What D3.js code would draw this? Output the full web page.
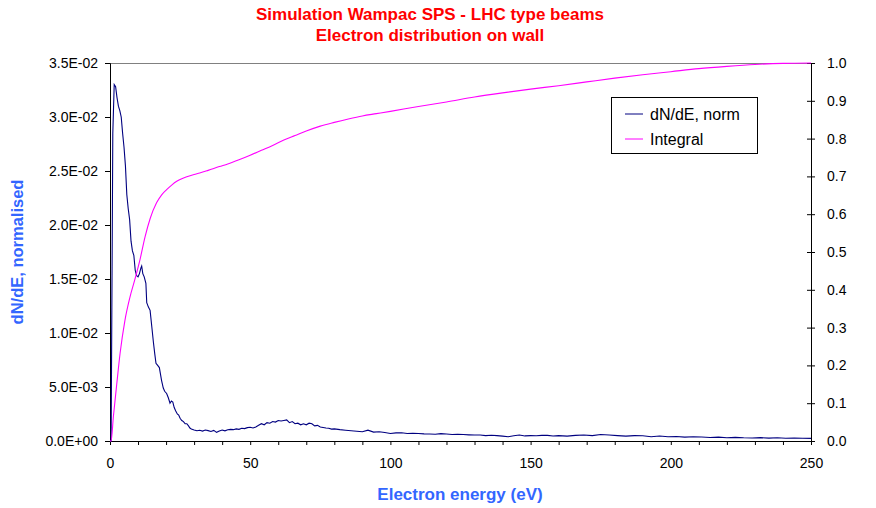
<!DOCTYPE html>
<html><head><meta charset="utf-8">
<script src="https://cdn.jsdelivr.net/npm/d3@7"></script>
<style>body{margin:0;background:#fff}svg{display:block;font-family:"Liberation Sans",Arial,sans-serif}</style>
</head><body>
<svg id="c" width="876" height="508"></svg>
<script>
// ---- data ----
const dnEnergy = [0,0.4,1.0,1.5,2.0,2.5,3.0,3.5,4.0,4.5,5,5.5,6,6.5,7,7.5,8,8.5,9,9.5,10,10.5,11,11.3,11.7,12.2,12.8,13.1,13.7,14.3,14.9,15.5,16,16.4,17,17.6,18,18.4,19,19.5,20.2,20.8,21.4,21.9,22.4,22.9,23.4,24,24.5,25,25.6,26.2,26.8,27.4,28,28.5,29,30,31,32,33,34,35,36,37,38,39,40,41,42,43,44,45,46,47,48,49,50,51,52,53,54,55,56,57,58,59,60,61,62,63,64,65,66,67,68,69,70,71,72,73,74,75,76,77,78,79,80,82,84,86,88,90,92,94,96,98,100,102,104,106,108,110,112,114,116,118,120,122,124,126,128,130,132,134,136,138,140,142,144,146,148,150,152,154,156,158,160,163,166,169,172,175,178,181,184,187,190,193,196,199,202,205,208,211,214,217,220,223,226,229,232,235,238,241,244,247,250];
const dnValues = [0,0,0.0285,0.0330,0.0328,0.0318,0.0310,0.0306,0.0300,0.0285,0.0272,0.0255,0.0228,0.0215,0.0205,0.0185,0.0176,0.0172,0.0158,0.0153,0.0152,0.0155,0.0160,0.0162,0.0155,0.0152,0.0146,0.0128,0.0124,0.0121,0.0106,0.0091,0.0080,0.0072,0.0070,0.0068,0.0062,0.0056,0.0049,0.0046,0.0044,0.0040,0.0035,0.0037,0.0036,0.0031,0.0028,0.0025,0.0024,0.0021,0.0019,0.0018,0.0016,0.0016,0.0014,0.0012,0.0011,0.00102,0.00095,0.00100,0.00092,0.00102,0.00096,0.00088,0.00098,0.00080,0.00092,0.00102,0.00094,0.00104,0.00108,0.00105,0.00112,0.00108,0.00118,0.00115,0.00124,0.00127,0.00120,0.00130,0.00145,0.00160,0.00150,0.00170,0.00165,0.00180,0.00175,0.00190,0.00185,0.00190,0.00195,0.00170,0.00180,0.00160,0.00165,0.00150,0.00160,0.00150,0.00165,0.00160,0.00140,0.00145,0.00130,0.00125,0.00120,0.00118,0.00110,0.00112,0.00105,0.00100,0.00095,0.00090,0.00086,0.00100,0.00082,0.00086,0.00078,0.00070,0.00075,0.00077,0.00070,0.00072,0.00070,0.00066,0.00065,0.00062,0.00068,0.00065,0.00060,0.00063,0.00060,0.00057,0.00055,0.00055,0.00050,0.00053,0.00050,0.00045,0.00040,0.00048,0.00055,0.00047,0.00050,0.00048,0.00052,0.00052,0.00046,0.00050,0.00045,0.00052,0.00056,0.00050,0.00060,0.00055,0.00050,0.00045,0.00050,0.00048,0.00040,0.00046,0.00040,0.00042,0.00036,0.00040,0.00037,0.00033,0.00036,0.00030,0.00034,0.00030,0.00028,0.00031,0.00027,0.00030,0.00025,0.00028,0.00025,0.00024];
const intEnergy = [0,0.4,1.2,2.4,3.6,5.3,7.1,8.9,10.7,12.5,14.3,16.6,18.5,20.2,22,23.8,25.6,27.4,30,32,35,39,42,46,50,54,58,62,66,70,75,80,85,90,95,100,110,120,130,140,150,160,170,180,190,200,210,220,230,240,250];
const intValues = [0,0,0.064,0.150,0.232,0.318,0.380,0.428,0.480,0.540,0.588,0.630,0.652,0.665,0.677,0.687,0.694,0.699,0.705,0.709,0.716,0.726,0.733,0.744,0.756,0.769,0.782,0.796,0.808,0.820,0.833,0.843,0.852,0.860,0.866,0.872,0.885,0.897,0.910,0.921,0.931,0.940,0.950,0.960,0.969,0.977,0.985,0.991,0.996,0.999,1.0];
const xTicks = [0,50,100,150,200,250];
const leftTicks = [0,0.005,0.01,0.015,0.02,0.025,0.03,0.035];
const leftTickLabels = ["0.0E+00","5.0E-03","1.0E-02","1.5E-02","2.0E-02","2.5E-02","3.0E-02","3.5E-02"];
const rightTicks = [0,0.1,0.2,0.3,0.4,0.5,0.6,0.7,0.8,0.9,1.0];
const rightTickLabels = ["0.0","0.1","0.2","0.3","0.4","0.5","0.6","0.7","0.8","0.9","1.0"];
const seriesNames = ["dN/dE, norm","Integral"];
const titleLines = ["Simulation Wampac SPS - LHC type beams","Electron distribution on wall"];

// ---- drawing ----
const svg = d3.select("#c");
const L=110, R=811, T=63, B=441;
const x = d3.scaleLinear().domain([0,250]).range([L,R]);
const yL = d3.scaleLinear().domain([0,0.035]).range([B,T]);
const yR = d3.scaleLinear().domain([0,1]).range([B,T]);
const navy="#000080", mag="#ff00ff", blue="#3366ff";

// frame
svg.append("rect").attr("x",L).attr("y",T).attr("width",R-L).attr("height",B-T)
  .attr("fill","none").attr("stroke","#808080").attr("stroke-width",1).attr("shape-rendering","crispEdges");

// x axis
const gx = svg.append("g").attr("transform",`translate(0,${B})`)
  .call(d3.axisBottom(x).tickValues(d3.range(0,251,10)).tickSize(4).tickFormat(d=>xTicks.includes(d)?d:""));
gx.select(".domain").attr("stroke","#000");
gx.selectAll("text").attr("font-size",14).attr("fill","#000").attr("dy","1.45em").attr("font-family","Liberation Sans, Arial, sans-serif");
gx.selectAll("line").attr("stroke","#000");

// left axis
const gl = svg.append("g").attr("transform",`translate(${L},0)`)
  .call(d3.axisLeft(yL).tickValues(leftTicks).tickSize(5).tickFormat((d,i)=>leftTickLabels[i]));
gl.selectAll("text").attr("font-size",14).attr("fill","#000").attr("x",-12).attr("font-family","Liberation Sans, Arial, sans-serif");
gl.select(".domain").attr("stroke","#000");

// right axis
const gr = svg.append("g").attr("transform",`translate(${R},0)`)
  .call(d3.axisRight(yR).tickValues(rightTicks).tickSize(4).tickFormat((d,i)=>rightTickLabels[i]));
gr.selectAll(".tick line").attr("x1",-4).attr("x2",4);
gr.selectAll("text").attr("font-size",14).attr("fill","#000").attr("x",16).attr("font-family","Liberation Sans, Arial, sans-serif");
gr.select(".domain").attr("stroke","#000");

// lines
const lineDn = d3.line().x((d,i)=>x(dnEnergy[i])).y(d=>yL(d));
svg.append("path").datum(dnValues).attr("d",lineDn).attr("fill","none").attr("stroke",navy).attr("stroke-width",1.1);
const lineInt = d3.line().curve(d3.curveMonotoneX).x((d,i)=>x(intEnergy[i])).y(d=>yR(d));
svg.append("path").datum(intValues).attr("d",lineInt).attr("fill","none").attr("stroke",mag).attr("stroke-width",1.1);

// titles
svg.append("g").selectAll("text").data(titleLines).join("text")
  .attr("x",430).attr("y",(d,i)=>20+i*21).attr("text-anchor","middle")
  .attr("font-size",17).attr("font-weight","bold").attr("fill","#ff0000").text(d=>d);
svg.append("text").attr("x",460).attr("y",500).attr("text-anchor","middle")
  .attr("font-size",17).attr("font-weight","bold").attr("fill",blue).text("Electron energy (eV)");
svg.append("text").attr("transform","translate(23,252) rotate(-90)").attr("text-anchor","middle")
  .attr("font-size",16.5).attr("font-weight","bold").attr("fill",blue).text("dN/dE, normalised");

// legend
const lg = svg.append("g");
lg.append("rect").attr("x",611).attr("y",97).attr("width",146).attr("height",56)
  .attr("fill","#fff").attr("stroke","#000").attr("stroke-width",1).attr("shape-rendering","crispEdges");
const cols=[navy,mag];
seriesNames.forEach((n,i)=>{
  const yy = 114+i*25;
  lg.append("line").attr("x1",625).attr("x2",643).attr("y1",yy).attr("y2",yy).attr("stroke",cols[i]).attr("stroke-width",1);
  lg.append("text").attr("x",650).attr("y",yy+5.5).attr("font-size",16).attr("fill","#000").text(n);
});
</script>
</body></html>
